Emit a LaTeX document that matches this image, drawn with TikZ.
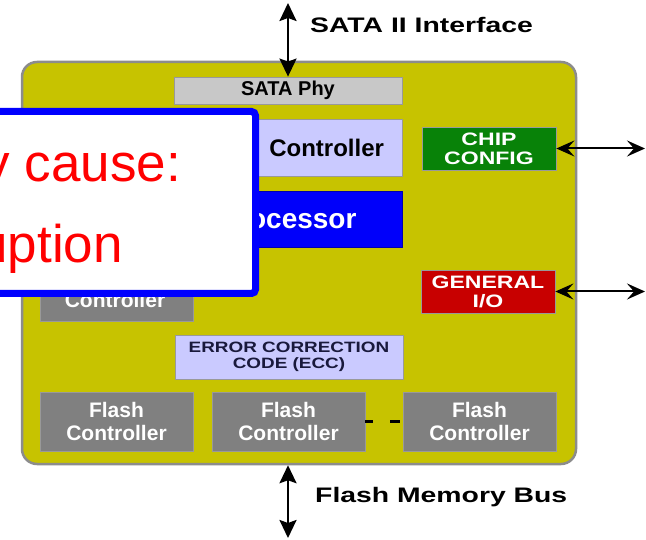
\documentclass[tikz,border=0pt]{standalone}
\usepackage{fontspec}
\setmainfont{Liberation Sans}
\usetikzlibrary{arrows.meta}

% horizontally widened label text
\newcommand\widen[2]{\scalebox{#1}[1]{#2}}
\newcommand\fsz[2]{\fontsize{#1}{#2}\selectfont}

\definecolor{chipyellow}{RGB}{199,195,0}
\definecolor{chipedge}{RGB}{140,140,140}
\definecolor{phygray}{RGB}{200,200,200}
\definecolor{lav}{RGB}{202,202,255}
\definecolor{procblue}{RGB}{0,0,250}
\definecolor{flashgray}{RGB}{128,128,128}
\definecolor{cfggreen}{RGB}{8,130,8}
\definecolor{gpiored}{RGB}{200,0,0}
\definecolor{ecctext}{RGB}{25,25,60}
\definecolor{noteblue}{RGB}{0,0,255}

\begin{document}
\begin{tikzpicture}[x=1pt,y=-1pt,
  chipbody/.style={rectangle, draw=chipedge, line width=2.5pt, fill=chipyellow,
    rounded corners=15pt, minimum width=554pt, minimum height=402pt, inner sep=0pt},
  blk/.style={rectangle, draw=black!40, line width=0.8pt, inner sep=0pt, font=\bfseries},
  bus/.style={{Stealth[length=18pt,width=17pt,inset=3pt]}-{Stealth[length=18pt,width=17pt,inset=3pt]}, line width=2.4pt},
  side/.style={{Stealth[length=18pt,width=16pt,inset=7pt]}-{Stealth[length=18pt,width=16pt,inset=7pt]}, line width=2pt},
  extlabel/.style={font=\fsz{21}{24}\bfseries, anchor=base west, inner sep=0pt},
  notetext/.style={text=red, font=\fsz{53}{60}, anchor=base east, inner sep=0pt}]

\useasboundingbox (0,0) rectangle (646,540);
\fill[white] (0,0) rectangle (646,540);
\clip (0,0) rectangle (646,540);

% controller chip outline
\node[chipbody] (chip) at (299,263) {};

% internal blocks
\node[blk, fill=phygray, minimum width=228pt, minimum height=27pt, font=\fsz{20}{22}\bfseries]
  (sataphy) at (288,90.5) {SATA Phy};
\node[blk, fill=lav, minimum width=228pt, minimum height=57pt, text width=192pt, align=right,
  font=\fsz{24}{26}\bfseries] (ctrl) at (288,147.5) {Controller};
\node[blk, fill=procblue, draw=procblue!70!black, text=white, minimum width=228pt, minimum height=56pt,
  font=\fsz{28}{30}\bfseries] (proc) at (288,219) {Processor};
\node[blk, fill=flashgray, minimum width=153pt, minimum height=58pt] (leftctl) at (116.5,292) {};
\node[text=white, font=\fsz{21}{23}\bfseries, anchor=base, inner sep=0pt] (leftctltxt) at (115,308) {Controller};

\node[blk, fill=cfggreen, text=white, minimum width=134pt, minimum height=43pt, align=center,
  font=\fsz{18}{19}\bfseries] (chipcfg) at (489,148.5) {\widen{1.28}{CHIP}\\\widen{1.28}{CONFIG}};
\node[blk, fill=gpiored, text=white, minimum width=134pt, minimum height=43pt, align=center,
  font=\fsz{18}{19}\bfseries] (gpio) at (488,291.5) {\widen{1.28}{GENERAL}\\\widen{1.28}{I/O}};

\node[blk, fill=lav, text=ecctext, minimum width=228pt, minimum height=44pt, align=center,
  font=\fsz{15}{16}\bfseries] (ecc) at (289,357) {\widen{1.26}{ERROR CORRECTION}\\\widen{1.26}{CODE (ECC)}};

\foreach \nm/\cx in {flash1/116.5, flash2/288.5, flash3/479.5}
  \node[blk, fill=flashgray, text=white, minimum width=153pt, minimum height=59pt, align=center,
    font=\fsz{21}{23}\bfseries] (\nm) at (\cx,421.5) {Flash\\Controller};
\draw[line width=2.5pt, dash pattern=on 8pt off 17pt on 10pt off 20pt] (flash2.east) -- (flash3.west);

% external interfaces
\coordinate (sataend) at (288,3);
\coordinate (busend) at (288,538);
\coordinate (cfgend) at (645,148.5);
\coordinate (gpioend) at (645,291.5);
\draw[bus] (sataend) -- (sataphy.north);
\draw[bus] (chip.south -| busend) -- (busend);
\draw[side] (chipcfg.east) -- (cfgend);
\draw[side] (gpio.east) -- (gpioend);

\node[extlabel] (sataif) at (310,33) {\widen{1.35}{SATA II Interface}};
\node[extlabel] (busl) at (315,502) {\widen{1.35}{Flash Memory Bus}};

% callout box on top
\draw[draw=noteblue, line width=7pt, fill=white, rounded corners=4pt] (-20,111.5) rectangle (255.5,293.5);
\node[notetext] (notea) at (181,182) {y cause:};
\node[notetext] (noteb) at (123,263) {uption};
\end{tikzpicture}
\end{document}
